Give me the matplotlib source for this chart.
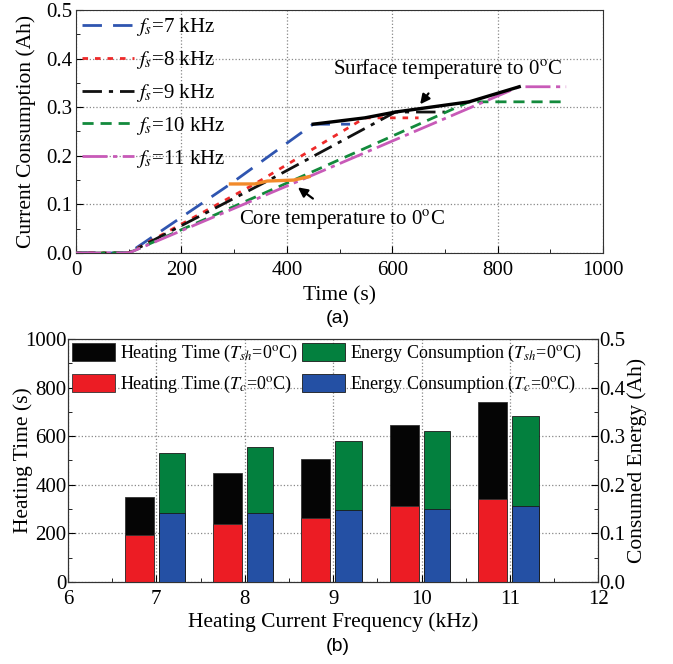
import matplotlib
matplotlib.use("Agg")
import matplotlib.pyplot as plt
from matplotlib.ticker import MultipleLocator, FormatStrFormatter

plt.rcParams['font.family'] = ['Liberation Serif', 'DejaVu Serif']
plt.rcParams['mathtext.fontset'] = 'stix'
plt.rcParams['font.size'] = 15

# heating results per current frequency
freqs = [7, 8, 9, 10, 11]
time_sh = [350, 448, 506, 646, 741]          # heating time until surface reaches 0 C (s)
time_c = [193, 239, 263, 313, 342]           # heating time until core reaches 0 C (s)
energy_sh = [0.265, 0.278, 0.290, 0.311, 0.342]  # Ah
energy_c = [0.142, 0.142, 0.148, 0.150, 0.157]   # Ah

# current consumption curves (time axis includes an idle start)
start_time = 100
end_time = [520, 650, 700, 930, 930]

line_colors = ['#2f55b0', '#ee2a2a', '#111111', '#138a3c', '#c85ab8']
line_styles = [(0, (7, 4)), (0, (2, 2.5)), (0, (7, 2.5, 1.5, 2.5)), (0, (4, 2.5)), (0, (9, 2, 1.5, 2))]

fig = plt.figure(figsize=(6.73, 6.64), dpi=100)

# ---- (a) current consumption vs time ----
ax = fig.add_axes([0.113, 0.619, 0.783, 0.366])
for i, f in enumerate(freqs):
    t_core = start_time + time_c[i]
    t_surf = start_time + time_sh[i]
    xs = [0, start_time, t_core, t_surf, end_time[i]]
    ys = [0, 0, energy_c[i], energy_sh[i], energy_sh[i]]
    ax.plot(xs, ys, color=line_colors[i], linestyle=line_styles[i], lw=2.0,
            label='$f_s$=%d kHz' % f, zorder=3)

core_x = [start_time + t for t in time_c]
surf_x = [start_time + t for t in time_sh]
ax.plot(core_x, energy_c, color='#f28a2a', lw=2.4, zorder=4)
ax.plot(surf_x, energy_sh, color='black', lw=2.4, zorder=4)

ax.annotate('Surface temperature to 0$^{\\rm o}$C', xy=(653, 0.306), xytext=(705, 0.379),
            ha='center', va='center', fontsize=15,
            arrowprops=dict(arrowstyle='-|>', color='black', lw=1.6, mutation_scale=14,
                            shrinkA=9, shrinkB=0))
ax.annotate('Core temperature to 0$^{\\rm o}$C', xy=(421, 0.135), xytext=(505, 0.067),
            ha='center', va='center', fontsize=15,
            arrowprops=dict(arrowstyle='-|>', color='black', lw=1.6, mutation_scale=14,
                            shrinkA=9, shrinkB=0))

ax.set_xlim(0, 1000)
ax.set_ylim(0, 0.5)
ax.xaxis.set_major_locator(MultipleLocator(200))
ax.xaxis.set_minor_locator(MultipleLocator(100))
ax.yaxis.set_major_locator(MultipleLocator(0.1))
ax.yaxis.set_minor_locator(MultipleLocator(0.05))
ax.yaxis.set_major_formatter(FormatStrFormatter('%.1f'))
ax.tick_params(which='both', direction='in', top=False, right=False, labelsize=15)
ax.tick_params(which='major', length=5)
ax.tick_params(which='minor', length=3)
ax.tick_params(axis='x', pad=6)
ax.tick_params(axis='y', pad=3)
ax.grid(True, which='major', linestyle=':', color='#888888', lw=0.9)
ax.set_xlabel('Time (s)', fontsize=15.5, labelpad=4)
ax.set_ylabel('Current Consumption (Ah)', fontsize=15.5, labelpad=7)
ax.legend(loc='upper left', frameon=False, handlelength=2.5, handletextpad=0.1,
          labelspacing=0.52, borderpad=0.2, borderaxespad=0.1, fontsize=15)
for s in ax.spines.values():
    s.set_color('#333333')
fig.text(0.502, 0.521, '(a)', ha='center', va='center', family='Liberation Sans', fontsize=14)

# ---- (b) heating time and consumed energy vs frequency ----
bx = fig.add_axes([0.101, 0.1235, 0.788, 0.366])
bx2 = bx.twinx()
hx = [f - 0.195 for f in freqs]
ex = [f + 0.175 for f in freqs]
b1 = bx.bar(hx, time_sh, width=0.33, color='#050505', edgecolor='#333333', lw=0.6, zorder=2,
            label='Heating Time ($T_{sh}$=0$^{\\rm o}$C)')
b2 = bx.bar(hx, time_c, width=0.33, color='#ec1c24', edgecolor='#333333', lw=0.6, zorder=3,
            label='Heating Time ($T_c$=0$^{\\rm o}$C)')
b3 = bx2.bar(ex, energy_sh, width=0.30, color='#03803e', edgecolor='#1a1a1a', lw=0.6, zorder=2,
             label='Energy Consumption ($T_{sh}$=0$^{\\rm o}$C)')
b4 = bx2.bar(ex, energy_c, width=0.30, color='#2450a4', edgecolor='#1a1a1a', lw=0.6, zorder=3,
             label='Energy Consumption ($T_c$=0$^{\\rm o}$C)')

bx.set_xlim(6, 12)
bx.set_ylim(0, 1000)
bx2.set_ylim(0, 0.5)
bx.xaxis.set_major_locator(MultipleLocator(1))
bx.xaxis.set_minor_locator(MultipleLocator(0.5))
bx.yaxis.set_major_locator(MultipleLocator(200))
bx.yaxis.set_minor_locator(MultipleLocator(100))
bx2.yaxis.set_major_locator(MultipleLocator(0.1))
bx2.yaxis.set_minor_locator(MultipleLocator(0.05))
bx2.yaxis.set_major_formatter(FormatStrFormatter('%.1f'))
bx.set_axisbelow(True)
bx.grid(True, which='major', linestyle=':', color='#888888', lw=0.9)
bx.tick_params(which='both', direction='in', top=False, right=False, labelsize=15)
bx.tick_params(which='major', length=5)
bx.tick_params(which='minor', length=3)
bx.tick_params(axis='x', pad=6)
bx.tick_params(axis='y', pad=1)
bx2.tick_params(which='both', direction='in', left=False, labelsize=15, pad=1)
bx2.tick_params(which='major', length=5)
bx2.tick_params(which='minor', length=3)
bx.set_xlabel('Heating Current Frequency (kHz)', fontsize=15.5, labelpad=2)
bx.set_ylabel('Heating Time (s)', fontsize=15.5, labelpad=-6)
bx2.set_ylabel('Consumed Energy (Ah)', fontsize=15.5, labelpad=1)
bx2.legend([b1, b2, b3, b4], [b1.get_label(), b2.get_label(), b3.get_label(), b4.get_label()],
           loc='upper left', ncol=2, frameon=False, handlelength=2.4, handleheight=1.2,
           handletextpad=0.3, columnspacing=0.2, labelspacing=0.55, borderpad=0.1,
           borderaxespad=0.1, fontsize=13)
for a in (bx, bx2):
    for s in a.spines.values():
        s.set_color('#333333')
fig.text(0.502, 0.026, '(b)', ha='center', va='center', family='Liberation Sans', fontsize=14)

fig.savefig('out.png', dpi=100)
